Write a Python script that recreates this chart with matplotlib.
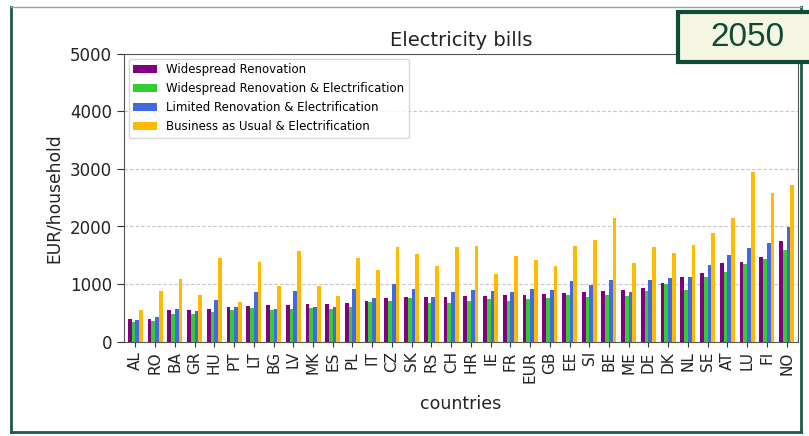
import numpy as np
import matplotlib
matplotlib.use("Agg")
import matplotlib.pyplot as plt
from matplotlib.patches import Rectangle
from matplotlib.lines import Line2D

countries = ['AL', 'RO', 'BA', 'GR', 'HU', 'PT', 'LT', 'BG', 'LV', 'MK', 'ES', 'PL',
             'IT', 'CZ', 'SK', 'RS', 'CH', 'HR', 'IE', 'FR', 'EUR', 'GB', 'EE', 'SI',
             'BE', 'ME', 'DE', 'DK', 'NL', 'SE', 'AT', 'LU', 'FI', 'NO']

widespread_renovation = [390, 400, 540, 550, 565, 605, 625, 630, 630, 645, 645, 665,
                         700, 755, 775, 780, 780, 790, 795, 805, 815, 820, 845, 855,
                         870, 890, 930, 1010, 1115, 1195, 1370, 1375, 1465, 1740]
widespread_renov_electr = [345, 350, 485, 485, 510, 540, 585, 550, 565, 590, 570, 605,
                           685, 710, 750, 675, 675, 700, 735, 700, 745, 760, 815, 780,
                           815, 785, 870, 1005, 890, 1130, 1205, 1350, 1430, 1590]
limited_renov_electr = [375, 430, 570, 530, 720, 605, 860, 570, 870, 600, 595, 910,
                        750, 995, 910, 770, 860, 890, 880, 865, 905, 900, 1050, 985,
                        1075, 865, 1065, 1110, 1115, 1330, 1510, 1630, 1705, 1990]
bau_electr = [545, 870, 1080, 815, 1455, 690, 1385, 960, 1580, 970, 790, 1460,
              1235, 1640, 1515, 1310, 1640, 1660, 1170, 1490, 1425, 1305, 1655, 1770,
              2140, 1365, 1640, 1535, 1685, 1880, 2145, 2950, 2590, 2730]

series_names = ['Widespread Renovation',
                'Widespread Renovation & Electrification',
                'Limited Renovation & Electrification',
                'Business as Usual & Electrification']
series_colors = ['#800080', '#32cd32', '#4169e1', '#ffba00']
year_label = '2050'

W, H = 809, 436
fig = plt.figure(figsize=(W / 100, H / 100), dpi=100)
ax = fig.add_axes([124 / W, 1 - 341.5 / H, (798 - 124) / W, (341.5 - 54) / H])

x = np.arange(len(countries))
width = 0.19
all_series = [widespread_renovation, widespread_renov_electr, limited_renov_electr, bau_electr]
for k, (vals, name, col) in enumerate(zip(all_series, series_names, series_colors)):
    ax.bar(x + (k - 1.5) * width, vals, width, color=col, label=name, zorder=3)

ax.set_xlim(-0.58, len(countries) - 1 + 0.58)
ax.set_ylim(0, 5000)
ax.set_yticks([0, 1000, 2000, 3000, 4000, 5000])
ax.set_xticks(x)
ax.set_xticklabels(countries, rotation=90, fontsize=11)
ax.tick_params(axis='y', labelsize=12, length=5, colors='#333333', labelcolor='#222222')
ax.tick_params(axis='x', colors='#333333', labelcolor='#222222')
ax.grid(axis='y', linestyle=(0, (3, 2)), color='#c4c4c4', linewidth=0.8, zorder=0)
ax.set_title('Electricity bills', fontsize=14, color='#222222')
ax.set_xlabel('countries', fontsize=12.5, color='#222222', labelpad=9)
ax.set_ylabel('EUR/household', fontsize=12.3, color='#222222', labelpad=5)
for sp in ax.spines.values():
    sp.set_color('#555555')

ax.legend(loc='upper left', fontsize=8.5, framealpha=0.8, borderaxespad=0.4)

# outer frame: dark sides and bottom, faint top edge
frame_col = '#1d5a47'
fx0, fx1, fy0, fy1 = 11 / W, 801 / W, 1 - 432 / H, 1 - 7 / H
for xs, ys, col, lw in [([fx0, fx0], [fy0, fy1], frame_col, 2.0),
                        ([fx1, fx1], [fy0, fy1], frame_col, 2.0),
                        ([fx0, fx1], [fy0, fy0], frame_col, 2.0),
                        ([fx0, fx1], [fy1, fy1], '#8fa89e', 1.0)]:
    fig.lines.append(Line2D(xs, ys, transform=fig.transFigure, color=col,
                            linewidth=lw, zorder=5))

# year badge
fig.patches.append(Rectangle((678 / W, 1 - 62 / H), (820 - 678) / W, (62 - 12) / H,
                             transform=fig.transFigure, facecolor='#f5f6e2',
                             edgecolor='#0e4a36', linewidth=3, zorder=10))
fig.text(747 / W, 1 - 37 / H, year_label, ha='center', va='center', fontsize=24,
         family='Liberation Sans', color='#0e4a36', zorder=11)

fig.savefig('out.png', dpi=100)
